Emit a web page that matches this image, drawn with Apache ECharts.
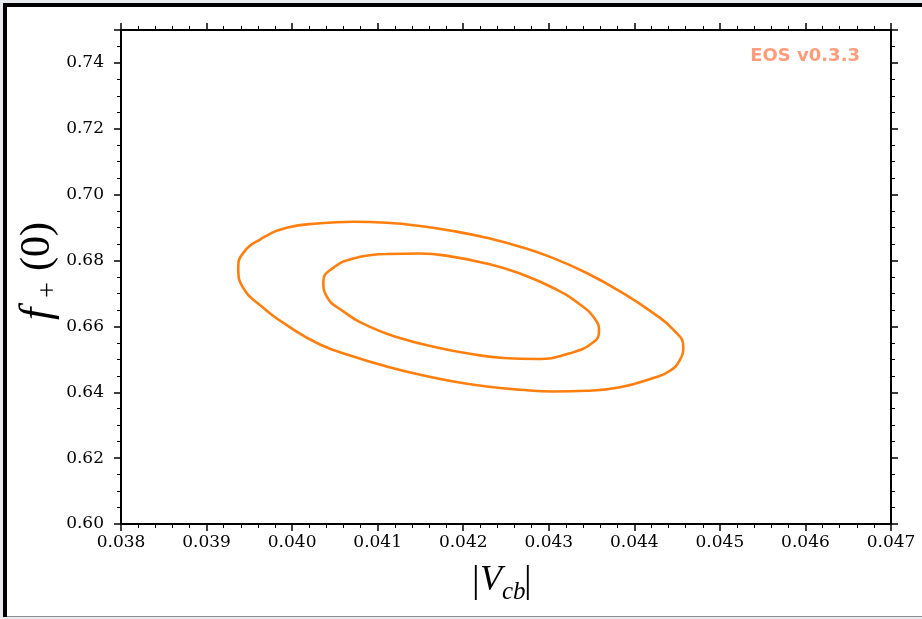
<!DOCTYPE html>
<html>
<head>
<meta charset="utf-8">
<script src="https://cdn.jsdelivr.net/npm/echarts@6/dist/echarts.min.js"></script>
<style>
  html, body { margin: 0; padding: 0; background: #fff; }
  #main { width: 922px; height: 619px; }
</style>
</head>
<body>
<div id="main"></div>
<script>
// contour lines (closed loops, first point repeated at the end)
var outerVcb = [0.040715, 0.041105, 0.041495, 0.041884, 0.042274, 0.042664, 0.043053, 0.043443,
  0.043832, 0.044222, 0.044455, 0.044572, 0.044534, 0.044417, 0.044222, 0.043832, 0.043443, 0.043053,
  0.042664, 0.042274, 0.041884, 0.041495, 0.041105, 0.040715, 0.040326, 0.039937, 0.039625,
  0.039429, 0.039371, 0.039429, 0.039625, 0.039937, 0.040326, 0.040715];
var outerFplus = [0.69176, 0.69145, 0.69048, 0.68896, 0.68689, 0.68422, 0.68072, 0.67622,
  0.67065, 0.66402, 0.65900, 0.65393, 0.64988, 0.64653, 0.64434, 0.64150, 0.64045, 0.64024,
  0.64076, 0.64176, 0.64328, 0.64532, 0.64784, 0.65088, 0.65450, 0.66037, 0.66646,
  0.67163, 0.67777, 0.68233, 0.68638, 0.68993, 0.69130, 0.69176];

var innerVcb = [0.041105, 0.041495, 0.041884, 0.042274, 0.042664, 0.043053, 0.043365, 0.043546,
  0.043587, 0.043520, 0.043248, 0.042859, 0.042468, 0.042079, 0.041690, 0.041300, 0.040910,
  0.040598, 0.040404, 0.040365, 0.040460, 0.040715, 0.041105];
var innerFplus = [0.68197, 0.68212, 0.68111, 0.67908, 0.67604, 0.67166, 0.66666, 0.66204,
  0.65849, 0.65520, 0.65186, 0.65009, 0.65040, 0.65170, 0.65362, 0.65617, 0.65986,
  0.66457, 0.66913, 0.67369, 0.67740, 0.68060, 0.68197];

var xMin = 0.038, xMax = 0.047, xStep = 0.001;
var yMin = 0.60, yMax = 0.75, yStep = 0.02;

var chart = echarts.init(document.getElementById('main'));

function pairs(xs, ys) {
  var arr = [];
  for (var i = 0; i < xs.length; i++) {
    arr.push([xs[i], ys[i]]);
  }
  return arr;
}

// a list of families is not taken by the axis labels here, so one name only
var labelFont = 'DejaVu Serif';
var tick = { show: true, inside: false, length: 7, lineStyle: { color: '#000', width: 1.5 } };
var axisLine = { show: true, onZero: false, lineStyle: { color: '#000', width: 2 } };

function xAx(pos, labels) {
  return {
    type: 'value', position: pos, min: xMin, max: xMax, interval: xStep,
    axisLine: axisLine, axisTick: tick,
    minorTick: { show: true, splitNumber: 5, length: 4, lineStyle: { color: '#000', width: 1 } },
    splitLine: { show: false },
    axisLabel: {
      show: labels, margin: 10, color: '#000', fontFamily: labelFont, fontSize: 17,
      formatter: function (v) { return v.toFixed(3); }
    }
  };
}

function yAx(pos, labels) {
  return {
    type: 'value', position: pos, min: yMin, max: yMax, interval: yStep,
    axisLine: axisLine, axisTick: tick,
    minorTick: { show: true, splitNumber: 4, length: 4, lineStyle: { color: '#000', width: 1 } },
    splitLine: { show: false },
    axisLabel: {
      show: labels, margin: 17, color: '#000', fontFamily: labelFont, fontSize: 17,
      showMaxLabel: false,
      formatter: function (v) { return v.toFixed(2); }
    }
  };
}

var option = {
  animation: false,
  backgroundColor: '#fff',
  grid: { left: 121, right: 31, top: 30, bottom: 95 },
  xAxis: [xAx('bottom', true), xAx('top', false)],
  yAxis: [yAx('left', true), yAx('right', false)],
  graphic: [
    // page frame
    { type: 'rect', shape: { x: 0, y: 0, width: 922, height: 3 }, style: { fill: '#e7ebee' }, silent: true },
    { type: 'rect', shape: { x: 0, y: 0, width: 3, height: 619 }, style: { fill: '#e7ebee' }, silent: true },
    { type: 'rect', shape: { x: 3, y: 3, width: 919, height: 4 }, style: { fill: '#000' }, silent: true },
    { type: 'rect', shape: { x: 3, y: 3, width: 4, height: 614 }, style: { fill: '#000' }, silent: true },
    { type: 'rect', shape: { x: 7, y: 616, width: 915, height: 1 }, style: { fill: '#8c8c8c' }, silent: true },
    { type: 'rect', shape: { x: 0, y: 617, width: 922, height: 2 }, style: { fill: '#e7ebee' }, silent: true },
    // watermark
    {
      type: 'text', right: 62, top: 47,
      style: { text: 'EOS v0.3.3', fill: '#ff9c7c', font: 'bold 18px "DejaVu Sans", sans-serif' }
    },
    // x axis title |V_cb|
    {
      type: 'group', left: 472, top: 563,
      children: [
        { type: 'text', x: 0, y: 0, style: { text: '|', fill: '#000', font: '38px "Liberation Serif"' } },
        { type: 'text', x: 8, y: 0, style: { text: 'V', fill: '#000', font: 'italic 36px "Liberation Serif"' } },
        { type: 'text', x: 30, y: 17, style: { text: 'cb', fill: '#000', font: 'italic 25px "Liberation Serif"' } },
        { type: 'text', x: 52, y: 0, style: { text: '|', fill: '#000', font: '38px "Liberation Serif"' } }
      ]
    },
    // y axis title f_+(0)
    {
      type: 'group', x: 16, y: 320, rotation: Math.PI / 2,
      children: [
        { type: 'text', x: 0, y: 0, style: { text: 'f', fill: '#000', font: 'italic 44px "Liberation Serif"' } },
        { type: 'text', x: 22, y: 19, style: { text: '+', fill: '#000', font: '28px "Liberation Serif"' } },
        { type: 'text', x: 49, y: 1, style: { text: '(0)', fill: '#000', font: '42px "Liberation Serif"' } }
      ]
    }
  ],
  series: [
    {
      name: 'outer', type: 'line', xAxisIndex: 0, yAxisIndex: 0,
      data: pairs(outerVcb, outerFplus), smooth: 0.5, showSymbol: false,
      lineStyle: { color: '#ff7f0e', width: 2.6 }
    },
    {
      name: 'inner', type: 'line', xAxisIndex: 0, yAxisIndex: 0,
      data: pairs(innerVcb, innerFplus), smooth: 0.5, showSymbol: false,
      lineStyle: { color: '#ff7f0e', width: 2.6 }
    }
  ]
};

chart.setOption(option);
</script>
</body>
</html>
